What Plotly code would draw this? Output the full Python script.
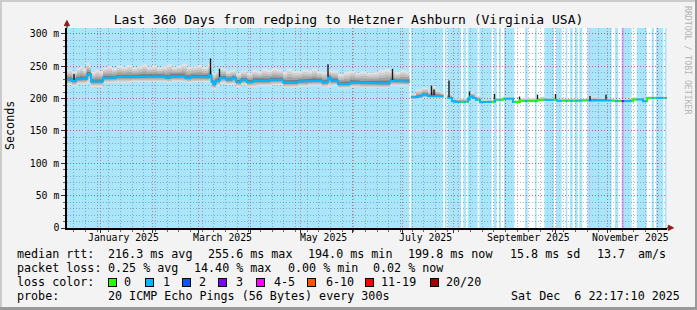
import numpy as np
import pandas as pd
import plotly.graph_objects as go

END = pd.Timestamp("2025-12-06 22:17:10")
SPAN_DAYS = 360
START = END - pd.Timedelta(days=SPAN_DAYS)

# ---- median rtt (ms); each value holds from its day (offset from START) until the next one
med1_days = [0.0, 3.0, 5.4, 12.0, 14.4, 21.6, 29.4, 43.8, 58.8, 61.8, 70.8, 74.4, 79.8, 85.2, 86.7, 87.9,
             89.1, 91.8, 95.4, 99.0, 101.4, 104.4, 108.0, 111.6, 114.0, 121.8, 129.6, 138.6, 144.6, 153.0,
             156.6, 158.4, 162.6, 169.8, 175.8, 183.6, 193.8, 196.2]
med1_ms = [229.5, 227.0, 230.5, 238.0, 226.5, 232.0, 233.5, 234.5, 232.5, 234.5, 232.0, 234.0, 233.0, 236.0,
           226.0, 222.0, 228.0, 232.0, 229.5, 232.0, 226.0, 229.0, 225.5, 228.0, 227.5, 229.0, 225.0, 226.5,
           227.5, 225.0, 232.0, 227.5, 222.5, 225.0, 224.0, 223.5, 227.5, 226.5]
med2_days = [206.4, 210.6, 213.0, 216.6, 219.6, 222.6]
med2_ms = [202.0, 203.5, 205.5, 204.0, 204.5, 203.5]
med3_days = [228.0, 231.0, 232.8, 239.4, 240.6, 241.8, 243.6, 245.4, 247.8, 253.8, 256.8, 261.6, 267.6,
             271.8, 273.6, 282.0, 283.8, 294.0, 307.8, 315.6, 324.0, 327.6, 339.6, 345.6, 348.0]
med3_ms = [201.0, 196.0, 194.5, 195.0, 199.0, 203.0, 201.0, 198.0, 194.5, 195.0, 198.0, 199.5, 194.5,
           197.0, 196.0, 197.5, 198.0, 196.5, 197.0, 198.0, 197.0, 196.0, 198.5, 196.0, 201.0]
seg_end = [205.4, 225.8, 360.0]

# ---- smoke: highest / lowest ping (ms)
smoke1_days = [0, 3, 6, 7.8, 9.6, 11.4, 13.2, 14.4, 17, 19.5, 21.6, 24, 27, 30, 33, 36, 39, 42, 45, 48, 51,
               54, 57, 60, 63, 66, 69, 72, 75, 78, 81, 84.6, 87.0, 89.5, 91.8, 95.4, 98, 101.4, 104.4, 108,
               111, 114, 117, 120, 123, 126, 129.6, 132, 135, 138.6, 141, 144.6, 147, 150, 153, 156, 159,
               162.6, 166, 169.8, 173, 176, 180, 183.6, 187, 190.8, 193.8, 196.8, 200, 203]
smoke1_hi = [245, 242, 247, 250, 246, 255, 252, 241, 244, 242, 248, 250, 247, 251, 249, 252, 248, 250, 253,
             249, 251, 248, 250, 253, 249, 251, 254, 249, 250, 252, 249, 254, 240, 243, 247, 242, 244, 239,
             243, 240, 244, 242, 246, 244, 247, 245, 241, 246, 243, 242, 245, 243, 246, 242, 241, 244, 243,
             238, 241, 243, 240, 242, 240, 241, 244, 246, 243, 241, 244, 242]
smoke1_lo = [221, 219, 222, 222.5, 221.5, 223, 229, 218, 218.5, 218, 224, 223.5, 224.5, 225, 225.5, 224.5,
             225.5, 225, 226, 225.5, 226, 225.5, 226, 224, 226, 225.5, 226, 224, 225.5, 225, 224.5, 225, 214,
             219, 223, 221, 221.5, 217.5, 220.5, 217, 217.5, 219, 219.5, 219, 220.5, 221, 216.5, 217, 217,
             218.5, 218, 219.5, 219, 219.5, 217, 217.5, 219.5, 215, 215.5, 217, 217.5, 216, 216.5, 215.5,
             216, 216, 219.5, 219, 218.5, 219]
smoke2_days = [206.4, 209.4, 213.0, 216.6, 218.4, 221.4, 224.0]
smoke2_hi = [207, 214, 217, 212, 219, 213, 210]
smoke2_lo = [198.5, 199.5, 201, 200, 200.5, 200.5, 200]
smoke3_days = [228.0, 231.0, 240.0, 242.4, 244.8, 247.8, 256.8, 261.6, 267.6, 271.8, 282.0, 284.4,
               288.0, 294.0, 307.8, 313.2, 318.0, 324.0, 327.6, 337.2, 345.6, 348.0]
smoke3_hi = [207, 200, 205, 210, 204, 197.5, 201, 203, 197.5, 200, 201, 203,
             201, 199.5, 200, 203, 201, 200, 199, 202, 199, 203]
smoke3_lo = [199, 194.5, 193.5, 199, 196, 193, 196, 198, 193, 195, 196, 196.5,
             196, 195, 195.5, 196, 196.5, 195.5, 194.5, 197, 194.5, 199.5]

# ---- short spikes (highest ping, ms)
spike_days = [4.2, 86.1, 91.5, 156.6, 195.3, 218.7, 220.2, 229.2, 241.5, 256.5, 271.5, 282.3, 293.1, 313.8, 323.4]
spike_top = [238, 262, 246, 253, 246, 220, 214, 228, 211, 207, 203, 206, 207, 204, 206]

# ---- packet loss class per period (0 = none)
loss_from = [0.0, 206.4, 226.8, 228.4, 237.8, 240.4, 247.4, 256.2, 259.2, 262.2, 274.8, 280.8, 286.4,
             293.4, 299.2, 301.8, 304.8, 307.4, 312.2, 313.4, 314.2, 328.8, 332.8, 334.2, 341.8, 350.8,
             353.4, 358.8]
loss_to = [205.4, 225.8, 227.8, 236.4, 239.4, 246.4, 254.8, 257.8, 260.4, 268.4, 276.4, 281.8, 292.2,
           296.8, 300.2, 303.4, 306.4, 309.2, 313.4, 314.2, 326.8, 330.8, 334.2, 338.8, 347.8, 352.2,
           357.8, 359.8]
loss_cls = [1, 1, 1, 1, 1, 1, 1, 1, 1, 1, 1, 1, 1, 1, 1, 1, 1, 1, 1, 2, 1, 1, 3, 1, 1, 1, 1, 1]

loss_names = ["0", "1", "2", "3", "4-5", "6-10", "11-19", "20/20"]
loss_colors = ["#26ff00", "#00b8ff", "#0059ff", "#7e00ff", "#ff00ff", "#ff5500", "#ff0000", "#a10000"]
loss_bg = {1: "#a9e5fd", 2: "#aabdfc", 3: "#d2aafc"}

rtt_stats = ["216.3 ms avg", "255.6 ms max", "194.0 ms min", "199.8 ms now", "15.8 ms sd", "13.7", "am/s"]
loss_stats = ["0.25 % avg", "14.40 % max", "0.00 % min", "0.02 % now"]
probe_text = "20 ICMP Echo Pings (56 Bytes) every 300s"
stamp_text = "Sat Dec  6 22:17:10 2025"
title_text = "Last 360 Days from redping to Hetzner Ashburn (Virginia USA)"
month_labels = ["January 2025", "March 2025", "May 2025", "July 2025", "September 2025", "November 2025"]
month_label_dates = ["2025-01-15", "2025-03-15", "2025-05-15", "2025-07-15", "2025-09-15", "2025-11-15"]
ytick_vals = [0, 50, 100, 150, 200, 250, 300]
ytick_text = ["0", "50 m", "100 m", "150 m", "200 m", "250 m", "300 m"]

Y_TOP = 309
FONT = "DejaVu Sans Mono"


def to_dt(d):
    return START + pd.to_timedelta(np.asarray(d, float), unit="D")


def step_val(days, vals, t):
    idx = np.searchsorted(np.asarray(days, float), np.asarray(t, float), side="right") - 1
    return np.asarray(vals, float)[np.clip(idx, 0, len(vals) - 1)]


def loss_at(t):
    for a, b, c in zip(loss_from, loss_to, loss_cls):
        if a <= t < b:
            return c
    return 0


segments = [
    (med1_days, med1_ms, smoke1_days, smoke1_hi, smoke1_lo, seg_end[0]),
    (med2_days, med2_ms, smoke2_days, smoke2_hi, smoke2_lo, seg_end[1]),
    (med3_days, med3_ms, smoke3_days, smoke3_hi, smoke3_lo, seg_end[2]),
]

fig = go.Figure()

smoke_levels = [(1.0, "#e2e2e2"), (0.8, "#d0d0d0"), (0.6, "#bcbcbc"), (0.4, "#a3a3a3"), (0.2, "#7a7a7a")]

for md, mv, sd, sh, sl, e in segments:
    s = md[0]
    b = np.array(sorted(set([s, e] + [d for d in list(md) + list(sd) if s <= d < e])))
    left, right = b[:-1], b[1:]
    m = step_val(md, mv, left)
    hi = step_val(sd, sh, left)
    lo = step_val(sd, sl, left)
    for f, col in smoke_levels:
        u = m + (hi - m) * f
        l = m - (m - lo) * f
        xs = np.concatenate([np.column_stack([left, right]).ravel(),
                             np.column_stack([right[::-1], left[::-1]]).ravel()])
        ys = np.concatenate([np.repeat(u, 2), np.repeat(l[::-1], 2)])
        fig.add_trace(go.Scatter(x=to_dt(xs), y=ys, mode="lines", fill="toself", fillcolor=col,
                                 line=dict(width=0, color=col), hoverinfo="skip", showlegend=False))

# spikes
sx, sy = [], []
for d, top in zip(spike_days, spike_top):
    for md, mv, sd, sh, sl, e in segments:
        if md[0] <= d < e:
            base = float(step_val(md, mv, [d])[0])
            sx += [d, d, np.nan]
            sy += [base, top, None]
fig.add_trace(go.Scatter(x=to_dt(sx), y=sy, mode="lines", line=dict(color="#1a1a1a", width=1.4),
                         hoverinfo="skip", showlegend=False, connectgaps=False))

# median coloured by loss
lines = {}
for md, mv, sd, sh, sl, e in segments:
    s = md[0]
    bset = set([s, e] + [d for d in md if s <= d < e])
    for a, bb in zip(loss_from, loss_to):
        for v in (a, bb):
            if s < v < e:
                bset.add(v)
    b = np.array(sorted(bset))
    left, right = b[:-1], b[1:]
    m = step_val(md, mv, left)
    prev = None
    for i in range(len(left)):
        c = loss_at((left[i] + right[i]) / 2)
        xs, ys = lines.setdefault(c, ([], []))
        if c != prev:
            if xs:
                xs.append(np.nan)
                ys.append(None)
            if prev is not None:
                xs.append(left[i])
                ys.append(m[i - 1])
        xs += [left[i], right[i]]
        ys += [m[i], m[i]]
        prev = c
for c, (xs, ys) in sorted(lines.items()):
    xd = [None if (isinstance(v, float) and np.isnan(v)) else START + pd.Timedelta(days=v) for v in xs]
    fig.add_trace(go.Scatter(x=xd, y=ys, mode="lines", line=dict(color=loss_colors[c], width=2),
                             hoverinfo="skip", showlegend=False, connectgaps=False))

# loss background
shapes = []
for a, bb, c in zip(loss_from, loss_to, loss_cls):
    if c > 0:
        shapes.append(dict(type="rect", xref="x", yref="y", x0=START + pd.Timedelta(days=a),
                           x1=START + pd.Timedelta(days=bb), y0=0, y1=Y_TOP,
                           fillcolor=loss_bg[c], line=dict(width=0), layer="below"))

L, R, T, B = 67, 30, 28, 82
W, H = 697, 310
PW, PH = W - L - R, H - T - B


def px(x):
    return (x - L) / PW


def py(y):
    return (H - B - y) / PH


# frame
shapes += [
    dict(type="line", xref="paper", yref="paper", x0=px(0), x1=px(W), y0=py(1), y1=py(1),
         line=dict(color="#cbcbcb", width=2)),
    dict(type="line", xref="paper", yref="paper", x0=px(1), x1=px(1), y0=py(0), y1=py(H),
         line=dict(color="#cbcbcb", width=2)),
    dict(type="line", xref="paper", yref="paper", x0=px(0), x1=px(W), y0=py(H - 1.5), y1=py(H - 1.5),
         line=dict(color="#9a9a9a", width=3)),
    dict(type="line", xref="paper", yref="paper", x0=px(W - 1), x1=px(W - 1), y0=py(0), y1=py(H),
         line=dict(color="#9a9a9a", width=2)),
    # arrows
    dict(type="line", xref="paper", yref="paper", x0=0, x1=0, y0=1, y1=py(24), line=dict(color="#000", width=1)),
    dict(type="path", xref="paper", yref="paper",
         path=f"M {px(64.3)},{py(25.7)} L {px(66.9)},{py(20.5)} L {px(69.5)},{py(25.7)} Z",
         fillcolor="#8e1b1b", line=dict(color="#8e1b1b", width=1)),
    dict(type="line", xref="paper", yref="paper", x0=1, x1=px(669), y0=0, y1=0, line=dict(color="#000", width=1)),
    dict(type="path", xref="paper", yref="paper",
         path=f"M {px(668.3)},{py(225.2)} L {px(673.5)},{py(227.8)} L {px(668.3)},{py(230.4)} Z",
         fillcolor="#8e1b1b", line=dict(color="#8e1b1b", width=1)),
]

ann = []
for lbl, dstr in zip(month_labels, month_label_dates):
    ann.append(dict(x=pd.Timestamp(dstr), y=0, xref="x", yref="paper", text=lbl, showarrow=False,
                    xanchor="center", yanchor="top", yshift=-2, font=dict(family=FONT, size=9.8, color="#000")))

LF = dict(family=FONT, size=11.7, color="#000")


def txt(x, y, t, anchor="left"):
    ann.append(dict(x=px(x), y=py(y), xref="paper", yref="paper", text=t.replace("  ", "\u00a0\u00a0"),
                    showarrow=False, xanchor=anchor, yanchor="middle", font=LF, borderpad=0))


row_y = [254.3, 268.3, 282.3, 296.3]
txt(16, row_y[0], "median rtt:")
for x, t in zip([107.3, 207.3, 306.5, 407.3, 508.5, 595.5, 636.5], rtt_stats):
    txt(x, row_y[0], t)
txt(16, row_y[1], "packet loss:")
for x, t in zip([107.3, 193.3, 286.7, 372.3], loss_stats):
    txt(x, row_y[1], t)
txt(16, row_y[2], "loss color:")
box_x = [112.2, 149.5, 186.2, 222.9, 260.0, 311.2, 369.5, 434.7]
lab_x = [122.8, 161.5, 198.0, 235.0, 272.6, 324.5, 380.3, 445.3]
for bx, lx, name, col in zip(box_x, lab_x, loss_names, loss_colors):
    ann.append(dict(x=px(bx), y=py(row_y[2]), xref="paper", yref="paper", text=" ", showarrow=False,
                    xanchor="center", yanchor="middle", width=7, height=7, bgcolor=col,
                    bordercolor="#000", borderwidth=1, borderpad=0, font=dict(size=4)))
    txt(lx, row_y[2], name)
txt(16, row_y[3], "probe:")
txt(107.3, row_y[3], probe_text)
txt(680.5, row_y[3], stamp_text, anchor="right")

ann.append(dict(x=px(10), y=py(126), xref="paper", yref="paper", text="Seconds", showarrow=False,
                textangle=-90, xanchor="center", yanchor="middle", font=dict(family=FONT, size=11.7, color="#000")))
ann.append(dict(x=px(688), y=py(60), xref="paper", yref="paper", text="RRDTOOL / TOBI OETIKER",
                showarrow=False, textangle=90, xanchor="center", yanchor="middle",
                font=dict(family=FONT, size=8.2, color="#b4b4b4")))

month_starts = pd.date_range("2025-01-01", "2025-12-01", freq="MS")
grid_minor = "rgba(110,110,110,0.5)"
grid_major = "rgba(215,55,55,0.6)"
DOT = "1px,2px"

fig.update_layout(
    width=W, height=H, margin=dict(l=L, r=R, t=T, b=B),
    paper_bgcolor="#f3f3f3", plot_bgcolor="#ffffff",
    title=dict(text=title_text, x=0.5, xref="container", xanchor="center", y=1 - 19.5 / H, yref="container",
               yanchor="middle", font=dict(family=FONT, size=13, color="#000")),
    showlegend=False, shapes=shapes, annotations=ann,
    xaxis=dict(type="date", range=[START, END], tickmode="array", tickvals=list(month_starts),
               ticktext=[""] * len(month_starts), showticklabels=False, showgrid=True, gridcolor=grid_major,
               griddash=DOT, gridwidth=1, ticks="outside", ticklen=3, tickcolor="#333",
               showline=True, linecolor="#000", linewidth=1.5,
               zeroline=False, fixedrange=True,
               minor=dict(dtick=7 * 86400000, tick0="2024-12-16", showgrid=True, gridcolor=grid_minor,
                          griddash=DOT, gridwidth=1, ticks="outside", ticklen=2, tickcolor="#666")),
    yaxis=dict(range=[0, Y_TOP], tickmode="array", tickvals=ytick_vals, ticktext=ytick_text,
               showgrid=True, gridcolor=grid_major, griddash=DOT, gridwidth=1, ticks="outside", ticklen=4,
               tickcolor="#333", showline=True, linecolor="#000", linewidth=1.5, zeroline=False, fixedrange=True,
               tickfont=dict(family=FONT, size=9.8, color="#000"),
               minor=dict(dtick=10, tick0=0, showgrid=True, gridcolor=grid_minor, griddash=DOT, gridwidth=1,
                          ticks="outside", ticklen=2, tickcolor="#666")),
)

fig.write_html("out.html")
